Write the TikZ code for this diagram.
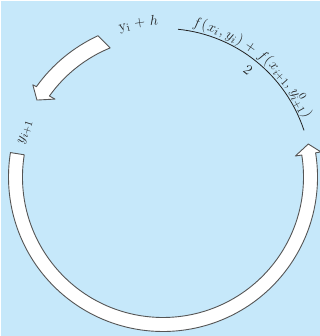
\documentclass[tikz,border=0pt]{standalone}
\usetikzlibrary{calc}
\definecolor{bgblue}{RGB}{198,232,250}
\definecolor{inkgray}{RGB}{35,35,35}
\definecolor{edgegray}{RGB}{85,85,85}
\newlength\pieceW
\newcount\pcnt
\newcommand\fsz{\fontsize{15.5}{18}\selectfont}
\newcommand\arcpiece[1]{%
  \settowidth\pieceW{\fsz #1}%
  \global\advance\pcnt by 1
  \pgfmathsetmacro\pmid{\curang-(\pieceW/2)/\arcR*57.29578}%
  \pgfmathsetmacro\prot{\pmid-90}%
  \node[txt, rotate=\prot, anchor=base] (piece\the\pcnt) at ($(C)+(\pmid:\arcR)$) {#1};
  \pgfmathsetmacro\curang{\curang-(\pieceW+0.5pt)/\arcR*57.29578}%
}
\tikzset{
  arrowbox/.style={draw=edgegray, fill=white, line width=0.9bp, line join=round},
  thinarc/.style={draw=inkgray, line width=0.8bp},
  txt/.style={inner sep=0pt, outer sep=0pt, text=inkgray, font=\fsz}
}
\begin{document}
\begin{tikzpicture}[x=1bp,y=1bp]
\useasboundingbox (0,0) rectangle (320,336);
\fill[white] (0,0) rectangle (320,336);
\fill[bgblue] (1,0) rectangle (320,335);
\coordinate (C) at (163,159);
% big arrow
\draw[arrowbox] ($(C)+(170.9:140.5)$) arc[start angle=170.9, end angle=369, radius=140.5]
  -- ($(C)+(9:134)$) -- ($(C)+(12.8:149)$) -- ($(C)+(9:160)$) -- ($(C)+(9:154.5)$)
  arc[start angle=9, end angle=-189.1, radius=154.5] -- cycle;
% small arrow
\draw[arrowbox] ($(C)+(114.7:155.5)$) arc[start angle=114.7, end angle=144.5, radius=155.5]
  -- ($(C)+(144.7:159.5)$) -- ($(C)+(148.6:147.7)$) -- ($(C)+(144.2:133.2)$) -- ($(C)+(144.5:139.5)$)
  arc[start angle=144.5, end angle=112.3, radius=139.5] -- cycle;
% fraction line
\draw[thinarc] ($(C)+(84.2:148.5)$) arc[start angle=84.2, end angle=18.3, radius=148.5];
% numerator
\def\arcR{153}\def\curang{79}
\arcpiece{$f$}\arcpiece{$($}\arcpiece{$x_i$}\arcpiece{$,\,$}\arcpiece{$y_i$}\arcpiece{$)$}%
\arcpiece{$\;+\;$}\arcpiece{$f$}\arcpiece{$($}\arcpiece{$x_{i+1}$}\arcpiece{$,\,$}%
\arcpiece{$y^0_{i+1}$}\arcpiece{$)$}
% denominator
\node[txt, rotate=-38.5] (den) at ($(C)+(51.5:136.7)$) {$2$};
% y_i + h
\def\arcR{152}\def\curang{106.5}
\arcpiece{$\mathrm{y}_\mathrm{i}$}\arcpiece{$\;+\;$}\arcpiece{$h$}
% y_{i+1}
\def\arcR{143}\def\curang{167}
\arcpiece{$y_{i+1}$}
\end{tikzpicture}
\end{document}
